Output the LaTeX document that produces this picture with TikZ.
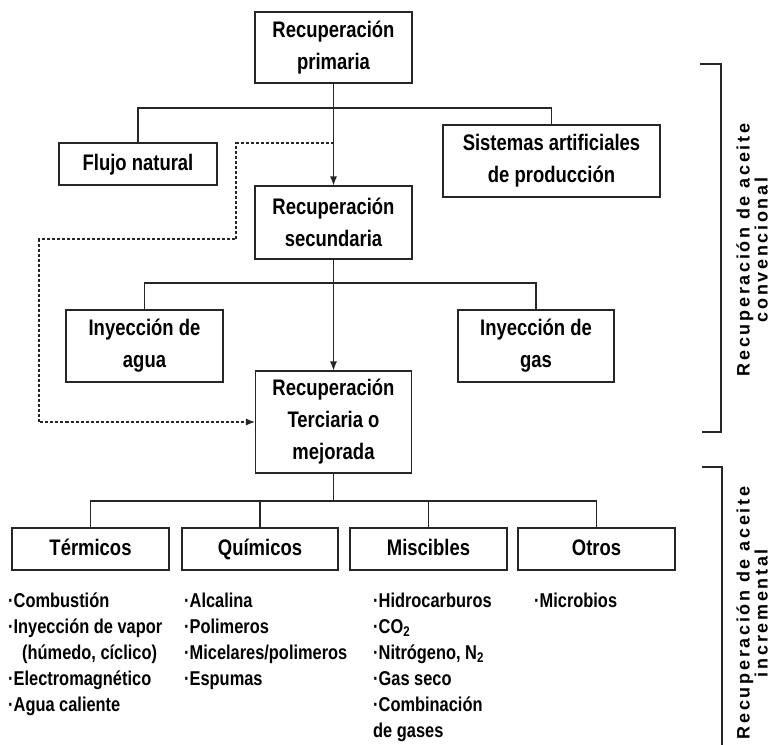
\documentclass[tikz,border=0pt]{standalone}
\usepackage{fontspec}
\setmainfont{Liberation Sans}
\newfontfamily\angosta[FakeStretch=0.82]{Liberation Sans}
\newfontfamily\espaciada[LetterSpace=15]{Liberation Sans}
\usetikzlibrary{arrows.meta}
\tikzset{
  caja/.style={draw=black!85, line width=1.1pt, inner sep=0pt, align=center, font=\angosta\bfseries\fontsize{22.5}{32}\selectfont},
  una/.style={caja, text height=17pt, text depth=4pt},
  lista/.style={anchor=base west, inner sep=0pt, align=left, font=\angosta\bfseries\fontsize{20}{26}\selectfont},
  lado/.style={rotate=90, inner sep=0pt, align=center, font=\espaciada\bfseries\fontsize{18}{18}\selectfont},
  linea/.style={draw=black!85, line width=1.1pt},
  flecha/.style={linea, -{Latex[length=9pt,width=7pt]}},
  guion/.style={linea, dash pattern=on 3pt off 2pt, -{Latex[length=9pt,width=7pt]}},
}

\begin{document}
\begin{tikzpicture}[x=1pt, y=-1pt]
  \useasboundingbox (0,0) rectangle (772,745);
  % cajas
  \node[caja, minimum width=157pt, minimum height=71pt] (prim) at (333.5,47.5) {Recuperación\\primaria};
  \node[una, minimum width=158pt, minimum height=42pt] (flujo) at (138,164) {Flujo natural};
  \node[caja, minimum width=217pt, minimum height=72pt] (sist) at (551.5,161) {Sistemas artificiales\\de producción};
  \node[caja, minimum width=157pt, minimum height=73pt] (sec) at (333.5,222.5) {Recuperación\\secundaria};
  \node[caja, minimum width=157pt, minimum height=72pt] (agua) at (144.5,346) {Inyección de\\agua};
  \node[caja, minimum width=156pt, minimum height=72pt] (gas) at (536,346) {Inyección de\\gas};
  \node[caja, minimum width=156pt, minimum height=102pt] (terc) at (333.5,422) {Recuperación\\Terciaria o\\mejorada};
  \node[una, minimum width=157pt, minimum height=42pt] (term) at (90.5,549) {Térmicos};
  \node[una, minimum width=156pt, minimum height=42pt] (quim) at (260,549) {Químicos};
  \node[una, minimum width=157pt, minimum height=42pt] (misc) at (428.5,549) {Miscibles};
  \node[una, minimum width=157pt, minimum height=42pt] (otros) at (596.5,549) {Otros};

  % listas (base = ultima linea)
  \node[lista] (lterm) at (8,711) {·Combustión\\·Inyección de vapor\\\hspace*{14pt}(húmedo, cíclico)\\·Electromagnético\\·Agua caliente};
  \node[lista] (lquim) at (184,685) {·Alcalina\\·Polimeros\\·Micelares/polimeros\\·Espumas};
  \node[lista] (lmisc) at (373,737) {·Hidrocarburos\\·CO\textsubscript{2}\\·Nitrógeno, N\textsubscript{2}\\·Gas seco\\·Combinación\\de gases};
  \node[lista] (lotros) at (534,607) {·Microbios};

  % conectores
  \coordinate (b1) at (333.5,108);
  \coordinate (b2) at (333.5,283);
  \coordinate (b3) at (333.5,501);
  \coordinate (d0) at (333.5,143);
  \draw[flecha] (prim) -- (sec);
  \draw[linea] (flujo.north) |- (b1) -| (sist.north);
  \draw[flecha] (sec) -- (terc);
  \draw[linea] (agua.north) |- (b2) -| (gas.north);
  \draw[linea] (terc.south) -- (b3);
  \draw[linea] (term.north) |- (b3) -| (otros.north);
  \draw[linea] (quim.north) -- (quim.north |- b3);
  \draw[linea] (misc.north) -- (misc.north |- b3);
  \draw[guion] (d0) -| (236,239) -| (39,422) -- (terc.west);

  % llaves laterales
  \draw[linea] (700,64) -- (721,64) -- (721,432) -- (702,432);
  \draw[linea] (702,467) -- (722,467) -- (722,750);
  \node[lado] (conv) at (752,250) {Recuperación de aceite\\convencional};
  \node[lado] (incr) at (752,613) {Recuperación de aceite\\incremental};
\end{tikzpicture}
\end{document}
